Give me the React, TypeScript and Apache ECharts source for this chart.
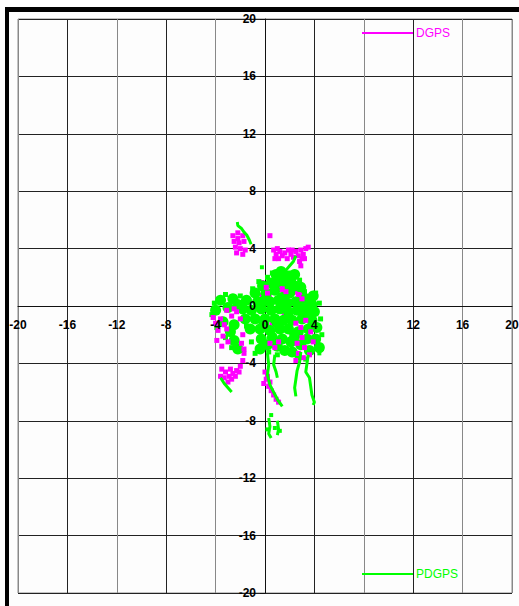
import React, { useEffect, useRef } from "react";
import * as echarts from "echarts";

const axisTicks = [-20, -16, -12, -8, -4, 0, 4, 8, 12, 16, 20];
const seriesNames = ["DGPS", "PDGPS"];

// DGPS (magenta) points
const dgpsUpperBlob = [
  [-2.6, 4.9], [-2.2, 5.1], [-1.8, 4.9], [-2.5, 4.5], [-2.1, 4.4], [-1.7, 4.5],
  [-2.4, 4.1], [-2.0, 4.0], [-1.6, 3.9], [-2.3, 3.7], [-1.8, 3.6], [-2.2, 4.7], [0.4, 4.9],
];
const dgpsBand = [
  [0.7, 3.9], [0.9, 3.6], [1.2, 3.8], [1.4, 3.5], [1.6, 3.7], [1.9, 3.9], [2.1, 3.6],
  [2.3, 3.4], [2.5, 3.8], [2.7, 3.5], [2.9, 3.9], [3.1, 3.6], [3.3, 4.0], [3.5, 4.1],
  [2.8, 3.1], [2.9, 2.8], [3.0, 3.3], [1.1, 3.3], [1.8, 3.3], [1.0, 4.0], [2.2, 3.9],
  [3.2, 3.3], [0.8, 3.3],
];
const dgpsCloudUnder = [
  [-0.3, 1.6], [0.0, 1.2], [0.3, 0.8], [-0.2, 0.7], [0.9, 1.5], [1.3, 1.2], [1.7, 1.6],
  [1.5, 0.9], [2.6, 1.0], [2.9, 0.6], [3.1, 0.9], [2.2, -1.8], [0.6, -1.2], [1.6, -0.5],
];
const dgpsCloudOver = [
  [-3.1, -0.3], [-2.7, -0.7], [-2.3, -0.4], [-2.0, -0.9], [-3.6, -0.9], [-4.0, -1.2],
  [-4.2, -0.8], [-3.8, -1.7], [-3.4, -2.1], [-3.1, -1.6], [-3.9, -2.4], [-3.5, -2.8],
  [-3.0, -2.5], [-1.8, -2.0], [-1.9, -2.6], [-1.7, -3.0], [-2.5, -0.2], [-3.3, -1.3],
  [0.4, -2.6], [0.8, -2.9], [1.1, -2.5], [0.1, 1.3], [0.2, 0.9], [1.4, 1.2], [1.7, 1.0],
  [2.7, 0.8], [3.0, 0.5],
  [2.5, -1.2], [2.9, -1.5], [3.3, -1.0], [3.7, -1.8], [3.0, -2.2], [2.6, -2.6],
  [3.2, -2.9], [2.7, -3.3], [3.1, -3.6], [2.5, -3.8], [3.6, -3.4], [3.9, -2.5],
];
const dgpsArc = [
  [-3.5, -4.4], [-3.2, -4.6], [-2.9, -4.9], [-2.6, -4.7], [-2.3, -4.5], [-2.0, -4.2],
  [-1.8, -3.8], [-1.7, -3.3], [-3.3, -5.0], [-3.0, -5.3], [-2.7, -5.1], [-2.4, -4.9],
  [-2.1, -4.6], [-3.6, -4.9], [-2.8, -4.4],
];
const dgpsTail = [
  [0.0, -4.6], [0.1, -5.1], [-0.1, -5.4], [0.3, -5.6], [0.5, -5.9], [0.7, -6.2],
  [0.9, -6.5], [1.1, -6.7], [0.4, -5.3], [0.2, -4.9],
];

// PDGPS (green) points
const pdgpsCore = [
  [0.9, 2.2], [1.3, 2.4], [1.5, 2.1], [2.1, 1.9], [2.4, 2.2],
  [-0.2, 1.4], [0.5, 1.6], [1.1, 1.7], [1.8, 1.5], [2.4, 1.4], [2.9, 1.3],
  [-0.8, 0.9], [0.1, 0.9], [0.8, 1.1], [1.4, 0.6], [2.0, 0.9], [3.3, 0.5], [3.9, 0.7],
  [-3.6, 0.4], [-2.6, 0.5], [-1.5, 0.4], [-0.6, 0.3], [0.0, 0.4], [0.4, 0.3], [1.1, 0.4],
  [1.8, 0.2], [2.5, 0.3], [3.1, 0.0], [3.8, 0.1],
  [-4.0, -0.3], [-3.0, -0.1], [-2.2, 0.1], [-1.8, -0.2], [-1.1, -0.3], [-0.3, -0.2],
  [0.5, -0.3], [1.2, -0.2], [1.9, -0.4], [2.6, -0.3], [3.3, -0.5], [3.6, -0.2], [4.0, -0.4],
  [-3.4, -1.1], [-2.5, -1.3], [-1.6, -0.9], [-0.8, -0.9], [0.0, -0.9], [0.8, -0.9],
  [1.5, -1.0], [2.2, -1.0], [3.0, -0.9], [3.8, -1.0], [-0.1, -1.3], [1.0, -1.2],
  [-2.8, -1.8], [-1.2, -1.6], [-0.4, -1.6], [0.4, -1.7], [1.2, -1.6], [1.9, -1.6],
  [2.7, -1.8], [3.5, -1.6], [4.2, -1.5],
  [-2.5, -2.4], [-0.3, -2.3], [0.6, -2.2], [1.4, -2.3], [2.1, -2.5], [2.4, -2.1],
  [3.4, -2.3], [4.1, -2.3],
  [-2.2, -3.0], [-0.4, -3.0], [0.2, -2.7], [1.0, -2.8], [1.6, -3.1], [2.2, -3.2],
  [2.9, -2.7], [3.6, -3.1], [4.4, -2.9],
];
const pdgpsEdge = [
  [-4.3, -0.6], [-4.1, 0.2], [-3.2, 0.8], [-2.0, 0.7], [-1.0, 1.2], [-0.5, 1.7],
  [0.2, 2.0], [0.6, 2.3], [1.9, 2.3], [2.8, 1.8], [3.2, 1.0], [4.1, 0.9], [4.4, 0.2],
  [4.5, -0.9], [4.6, -2.0], [-3.9, -1.5], [-3.2, -2.2], [-2.7, -2.9], [-1.1, -2.5],
  [-0.8, -3.3], [0.3, -3.2], [1.0, -3.4], [2.6, -3.6], [3.3, -3.7], [-1.5, -1.4],
];
const pdgpsDots = [
  [-0.25, 2.7], [0.5, -7.6], [0.8, -8.5], [1.2, -8.7], [0.2, -8.6], [4.3, -2.6], [4.6, -3.0], [4.4, -3.3],
];
const pdgpsUpperTrack = [[-2.24, 5.85], [-2.2, 5.6], [-1.9, 5.4], [-1.7, 5.15], [-1.48, 4.95], [-1.27, 4.6], [-1.13, 4.3]];
const pdgpsMidTrack = [[2.5, 3.5], [2.3, 3.1], [2.0, 2.8], [1.7, 2.5], [1.3, 2.3]];
const pdgpsDownTrackA = [[0.2, -3.3], [0.3, -4.1], [0.2, -4.8], [0.4, -5.5], [0.7, -6.0], [1.0, -6.5], [1.4, -7.0]];
const pdgpsDownTrackB = [[0.8, -3.4], [0.7, -4.1], [0.9, -4.6], [1.0, -5.0]];
const pdgpsBottomTrackA = [[0.3, -7.8], [0.4, -8.4], [0.3, -8.9], [0.5, -9.2]];
const pdgpsBottomTrackB = [[1.0, -8.0], [1.1, -8.6], [1.0, -9.0]];
const pdgpsRightTrackA = [[2.9, -3.2], [2.8, -3.9], [2.6, -4.5], [2.5, -5.1], [2.4, -5.7], [2.5, -6.3]];
const pdgpsRightTrackB = [[3.5, -3.4], [3.4, -4.0], [3.3, -4.6], [3.6, -5.0], [3.7, -5.6], [3.8, -6.2], [4.0, -6.7], [3.9, -6.9]];
const pdgpsLeftTrack = [[-3.6, -5.0], [-3.3, -5.4], [-3.0, -5.7], [-2.7, -6.0]];

const MAGENTA = "#ff00ff";
const GREEN = "#00ff00";
const FONT = "'Liberation Sans Narrow', 'Liberation Sans', Arial, sans-serif";

export default function App() {
  const ref = useRef<HTMLDivElement>(null);
  useEffect(() => {
    if (!ref.current) return;
    const chart = echarts.init(ref.current, null, { renderer: "svg" });
    const greenLine = (data: number[][]) => ({
      name: seriesNames[1],
      type: "line",
      data,
      showSymbol: false,
      symbol: "none",
      lineStyle: { color: GREEN, width: 3 },
      itemStyle: { color: GREEN },
      z: 5,
    });
    const scatter = (name: string, color: string, size: number, data: number[][], z: number, symbol = "rect") => ({
      name,
      type: "scatter",
      symbol,
      symbolSize: size,
      itemStyle: { color, opacity: 1 },
      data,
      z,
    });
    const xColors = ["#888", "#222", "#888", "#222", "#888", "#222", "#222", "#888", "#222", "#888", "#888"];
    const range = { min: axisTicks[0], max: axisTicks[axisTicks.length - 1], interval: 4 };
    const labelStyle = {
      color: "#000",
      fontSize: 12,
      fontWeight: "bold",
      fontFamily: FONT,
      showMinLabel: true,
      showMaxLabel: true,
      hideOverlap: false,
    };
    chart.setOption({
      animation: false,
      backgroundColor: "#fdfdfd",
      grid: {
        left: 18,
        top: 19,
        width: 494,
        height: 574,
        show: true,
        borderColor: "#888",
        borderWidth: 1,
        backgroundColor: "transparent",
        containLabel: false,
        outerBoundsMode: "none",
      },
      legend: [
        {
          data: [{ name: seriesNames[0], icon: "rect" }],
          left: 362,
          top: 27,
          itemWidth: 51,
          itemHeight: 2,
          textStyle: { color: MAGENTA, fontSize: 12, fontFamily: "'Liberation Sans', Arial, sans-serif", padding: [0, 0, 0, -2] },
          padding: 0,
          selectedMode: false,
        },
        {
          data: [{ name: seriesNames[1], icon: "rect" }],
          left: 362,
          top: 568,
          itemWidth: 51,
          itemHeight: 2,
          textStyle: { color: GREEN, fontSize: 12, fontFamily: "'Liberation Sans', Arial, sans-serif", padding: [0, 0, 0, -2] },
          padding: 0,
          selectedMode: false,
        },
      ],
      xAxis: [
        {
          type: "value",
          position: "bottom",
          offset: -287,
          ...range,
          axisLine: { onZero: false, lineStyle: { color: "#111", width: 1 } },
          axisTick: { show: false },
          axisLabel: { show: false },
          splitLine: { show: true, lineStyle: { color: xColors, width: 1 } },
          z: 0,
        },
        {
          type: "value",
          position: "bottom",
          offset: -287,
          ...range,
          axisLine: { show: false, onZero: false },
          axisTick: { show: false },
          axisLabel: { ...labelStyle, margin: 13 },
          splitLine: { show: false },
          z: 20,
        },
      ],
      yAxis: [
        {
          type: "value",
          position: "left",
          offset: -247,
          ...range,
          axisLine: { onZero: false, lineStyle: { color: "#111", width: 1 } },
          axisTick: { show: true, length: 5, lineStyle: { color: "#111" } },
          axisLabel: { show: false },
          splitLine: { show: true, lineStyle: { color: "#222", width: 1 } },
          z: 0,
        },
        {
          type: "value",
          position: "left",
          offset: -247,
          ...range,
          axisLine: { show: false, onZero: false },
          axisTick: { show: false },
          axisLabel: { ...labelStyle, margin: 9 },
          splitLine: { show: false },
          z: 20,
        },
      ],
      series: [
        scatter(seriesNames[0], MAGENTA, 5, [...dgpsUpperBlob, ...dgpsBand, ...dgpsArc, ...dgpsTail], 2),
        scatter(seriesNames[0], MAGENTA, 6, dgpsCloudUnder, 2),
        scatter(seriesNames[1], GREEN, 11, pdgpsCore, 3, "circle"),
        scatter(seriesNames[1], GREEN, 5, pdgpsEdge, 3),
        scatter(seriesNames[0], MAGENTA, 5, dgpsCloudOver, 4),
        scatter(seriesNames[1], GREEN, 4, pdgpsDots, 5),
        greenLine(pdgpsUpperTrack),
        greenLine(pdgpsMidTrack),
        greenLine(pdgpsDownTrackA),
        greenLine(pdgpsDownTrackB),
        greenLine(pdgpsBottomTrackA),
        greenLine(pdgpsBottomTrackB),
        greenLine(pdgpsRightTrackA),
        greenLine(pdgpsRightTrackB),
        greenLine(pdgpsLeftTrack),
      ],
      graphic: [
        { type: "rect", left: 5, top: 7, shape: { width: 514, height: 5 }, style: { fill: "#000" }, z: 10 },
        { type: "rect", left: 5, top: 7, shape: { width: 4, height: 599 }, style: { fill: "#000" }, z: 10 },
      ],
    });
    return () => chart.dispose();
  }, []);
  return (
    <div
      ref={ref}
      style={{ position: "absolute", left: 0, top: 0, width: 519, height: 606 }}
    />
  );
}
